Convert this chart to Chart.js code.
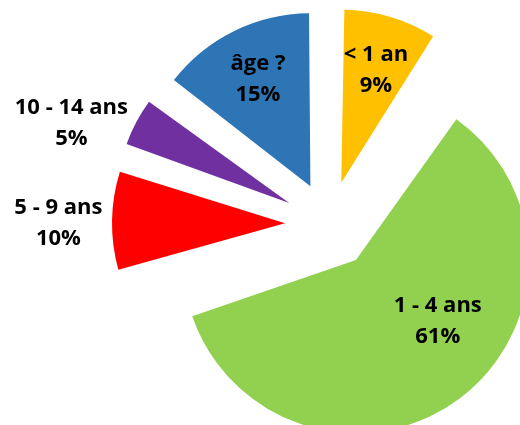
<!DOCTYPE html>
<html>
<head>
<meta charset="utf-8">
<script src="https://cdn.jsdelivr.net/npm/chart.js@4"></script>
<style>
  html, body { margin: 0; padding: 0; background: #ffffff; overflow: hidden; }
  #wrap { width: 520px; height: 425px; position: relative; }
</style>
</head>
<body>
<div id="wrap"><canvas id="c"></canvas></div>
<script>
// ---- data ----
const categories = ['< 1 an', '1 - 4 ans', '5 - 9 ans', '10 - 14 ans', 'âge ?'];
const shares = [9.2, 61.2, 9.7, 5.3, 14.6];           // slice sizes
const percentLabels = ['9%', '61%', '10%', '5%', '15%'];

// ---- style ----
const sliceColors = ['#FFC000', '#92D050', '#FF0000', '#7030A0', '#2E75B6'];
const explodePx = [43, 45, 44, 45, 42];             // pull-out distance of each slice
const labelRadial = [0.68, 0.59, 1.31, 1.34, 0.69]; // label distance as fraction of radius
const labelShiftDeg = [0.6, -16.6, -0.9, -7.9, 0.2]; // label angular nudge
const PIE_RADIUS = 173;
const LABEL_FONT = 'bold 22px "Open Sans", "Liberation Sans", sans-serif';
const LINE_H = 31;

// Chart.js translates an arc by offset/4 along its mid angle
function offsetFor(ctx) {
  return explodePx[ctx.dataIndex] * 4;
}

// Chart.js also grows the radius of an offset arc by (offset/4)*(1 - sin(min(PI, circ)));
// compensate so that every slice keeps the same radius.
const radiusFix = {
  id: 'radiusFix',
  beforeDatasetsDraw(chart) {
    const meta = chart.getDatasetMeta(0);
    meta.data.forEach((arc, i) => {
      const circ = arc.endAngle - arc.startAngle;
      const fix = 1 - Math.sin(Math.min(Math.PI, circ));
      arc.outerRadius = PIE_RADIUS - explodePx[i] * fix;
    });
  }
};

const labelPlugin = {
  id: 'sliceLabels',
  afterDatasetsDraw(chart) {
    const meta = chart.getDatasetMeta(0);
    const ctx = chart.ctx;
    ctx.save();
    ctx.font = LABEL_FONT;
    ctx.fillStyle = '#000000';
    ctx.textAlign = 'center';
    ctx.textBaseline = 'middle';
    meta.data.forEach((arc, i) => {
      const p = arc.getProps(['x', 'y', 'startAngle', 'endAngle'], true);
      const mid = (p.startAngle + p.endAngle) / 2;
      const ax = p.x + Math.cos(mid) * explodePx[i];
      const ay = p.y + Math.sin(mid) * explodePx[i];
      const a = mid + labelShiftDeg[i] * Math.PI / 180;
      const r = PIE_RADIUS * labelRadial[i];
      const lx = ax + Math.cos(a) * r;
      const ly = ay + Math.sin(a) * r;
      ctx.fillText(categories[i], lx, ly - LINE_H / 2);
      ctx.fillText(percentLabels[i], lx, ly + LINE_H / 2);
    });
    ctx.restore();
  }
};

new Chart(document.getElementById('c'), {
  type: 'pie',
  data: {
    labels: categories,
    datasets: [{
      data: shares,
      backgroundColor: sliceColors,
      borderWidth: 0,
      offset: offsetFor,
      radius: PIE_RADIUS,
      clip: false
    }]
  },
  options: {
    responsive: true,
    maintainAspectRatio: false,
    animation: false,
    events: [],
    layout: { padding: { left: 138, top: 23, right: 0, bottom: 0 } },
    plugins: {
      legend: { display: false },
      tooltip: { enabled: false }
    }
  },
  plugins: [radiusFix, labelPlugin]
});
</script>
</body>
</html>
